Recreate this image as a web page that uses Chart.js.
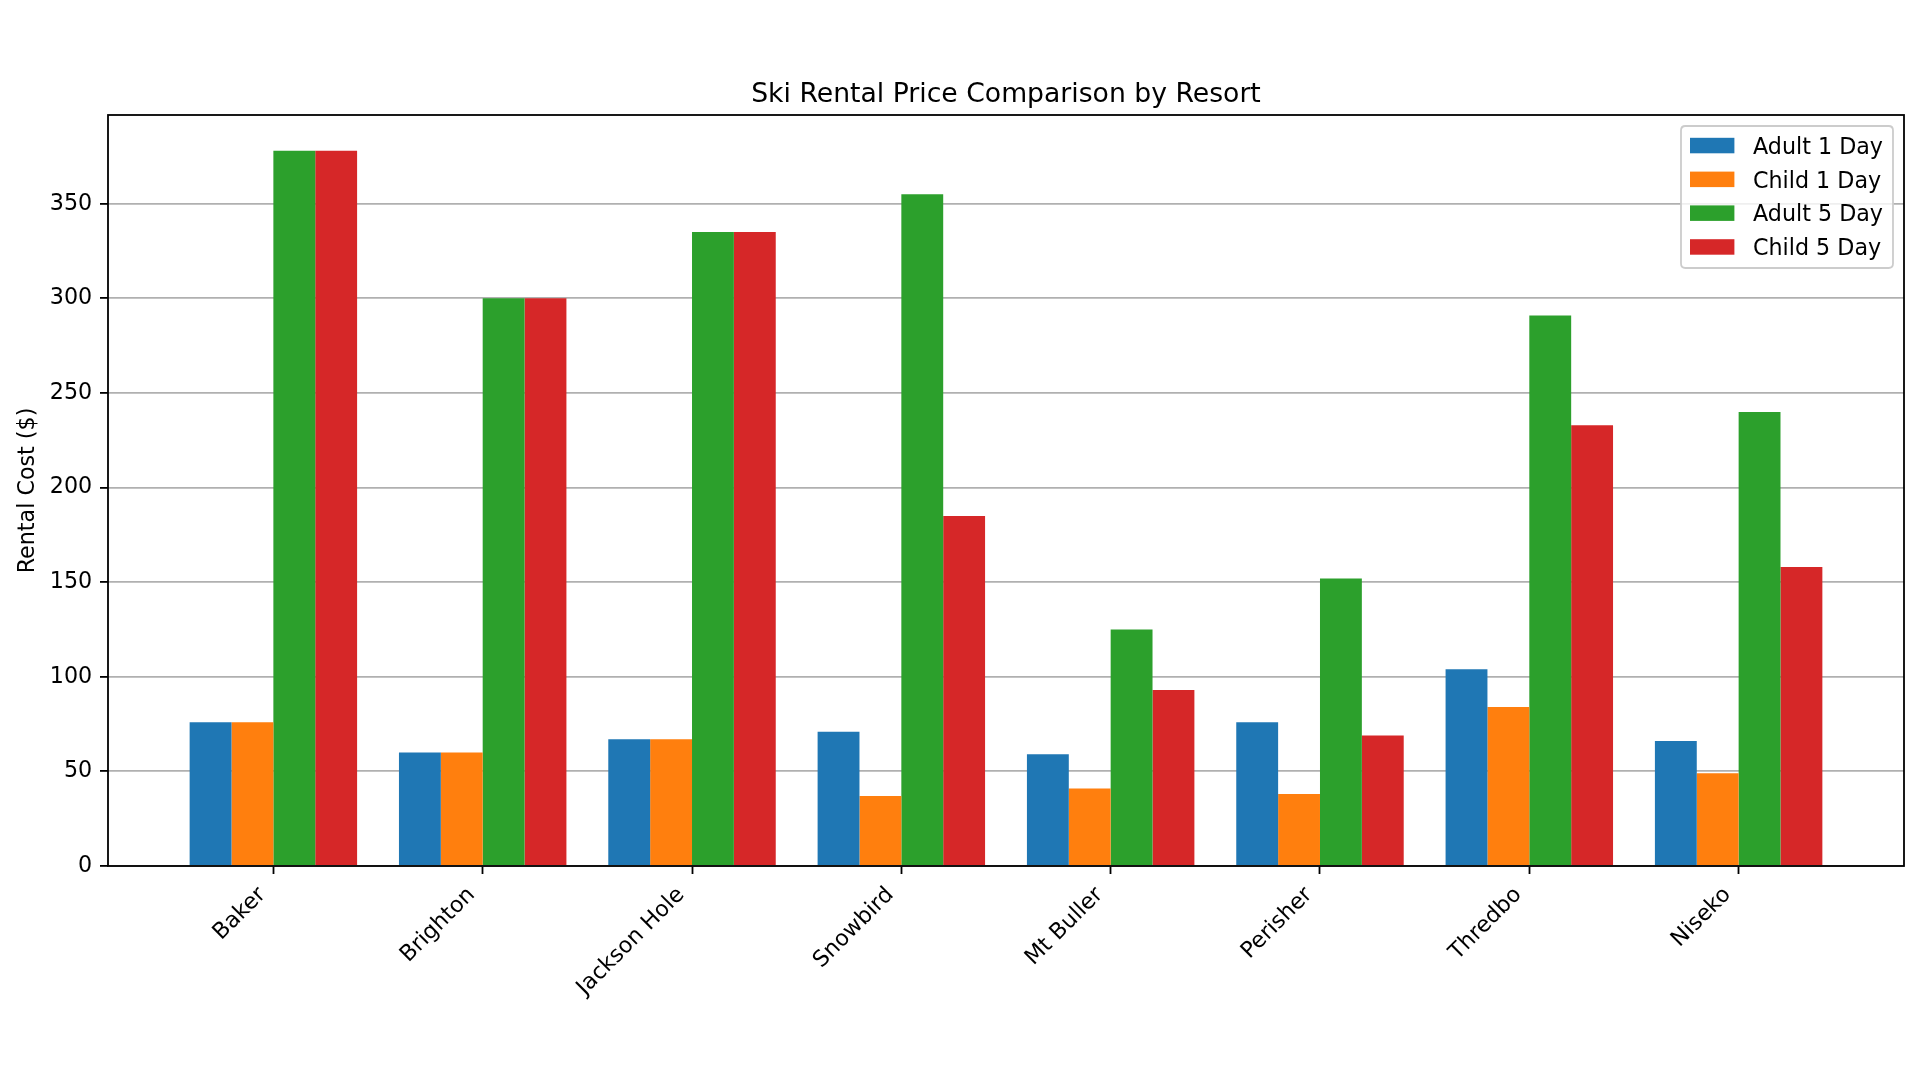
<!DOCTYPE html>
<html>
<head>
<meta charset="utf-8">
<script src="https://cdn.jsdelivr.net/npm/chart.js@4.4.1/dist/chart.umd.min.js"></script>
<style>
  html, body { margin: 0; padding: 0; background: #ffffff; }
  #wrap { width: 1920px; height: 1080px; }
</style>
</head>
<body>
<div id="wrap"><canvas id="c" width="1920" height="1080"></canvas></div>
<script>
// ---- Data ----
const chartTitle = 'Ski Rental Price Comparison by Resort';
const yAxisLabel = 'Rental Cost ($)';
const categories = ['Baker', 'Brighton', 'Jackson Hole', 'Snowbird', 'Mt Buller', 'Perisher', 'Thredbo', 'Niseko'];
const seriesNames = ['Adult 1 Day', 'Child 1 Day', 'Adult 5 Day', 'Child 5 Day'];
const adult1Day = [76, 60, 67, 71, 59, 76, 104, 66];
const child1Day = [76, 60, 67, 37, 41, 38, 84, 49];
const adult5Day = [378, 300, 335, 355, 125, 152, 291, 240];
const child5Day = [378, 300, 335, 185, 93, 69, 233, 158];
const yTicks = [0, 50, 100, 150, 200, 250, 300, 350];

// ---- Styles ----
const seriesColors = ['#1f77b4', '#ff7f0e', '#2ca02c', '#d62728'];
const FONT = 'DejaVu Sans';
const TICK_PX = 22.22;
const TITLE_PX = 26.67;

const allSeries = [adult1Day, child1Day, adult5Day, child5Day];
const yMax = Math.max(...allSeries.flat()) * 1.05;
const xMin = -0.4 - 0.05 * (categories.length - 0.2);
const xMax = (categories.length - 1) + 0.4 + 0.05 * (categories.length - 0.2);

Chart.defaults.font.family = FONT;
Chart.defaults.font.size = TICK_PX;
Chart.defaults.color = '#000000';

const datasets = allSeries.map((vals, k) => ({
  label: seriesNames[k],
  data: vals.map((v, i) => ({ x: i, y: v })),
  backgroundColor: seriesColors[k],
  borderWidth: 0,
  barPercentage: 1.0,
  categoryPercentage: 0.8
}));

const titlePlugin = {
  id: 'mplTitle',
  afterDraw(chart) {
    const { ctx, chartArea } = chart;
    ctx.save();
    ctx.font = TITLE_PX + 'px "' + FONT + '"';
    ctx.fillStyle = '#000';
    ctx.textAlign = 'center';
    ctx.textBaseline = 'alphabetic';
    ctx.fillText(chartTitle, (chartArea.left + chartArea.right) / 2, chartArea.top - 13.3);
    ctx.restore();
  }
};

const framePlugin = {
  id: 'mplFrame',
  afterDraw(chart) {
    const { ctx, chartArea } = chart;
    ctx.save();
    ctx.strokeStyle = '#000';
    ctx.lineWidth = 1.8;
    ctx.strokeRect(chartArea.left, chartArea.top, chartArea.right - chartArea.left, chartArea.bottom - chartArea.top);
    ctx.restore();
  }
};

const legendPlugin = {
  id: 'mplLegend',
  afterDraw(chart) {
    const { ctx, chartArea } = chart;
    const ds = chart.data.datasets;
    const boxRight = chartArea.right - 11;
    const boxTop = chartArea.top + 11;
    const boxW = 212, boxH = 142;
    const boxLeft = boxRight - boxW;
    ctx.save();
    const r = 4.4;
    ctx.beginPath();
    ctx.moveTo(boxLeft + r, boxTop);
    ctx.lineTo(boxRight - r, boxTop);
    ctx.quadraticCurveTo(boxRight, boxTop, boxRight, boxTop + r);
    ctx.lineTo(boxRight, boxTop + boxH - r);
    ctx.quadraticCurveTo(boxRight, boxTop + boxH, boxRight - r, boxTop + boxH);
    ctx.lineTo(boxLeft + r, boxTop + boxH);
    ctx.quadraticCurveTo(boxLeft, boxTop + boxH, boxLeft, boxTop + boxH - r);
    ctx.lineTo(boxLeft, boxTop + r);
    ctx.quadraticCurveTo(boxLeft, boxTop, boxLeft + r, boxTop);
    ctx.closePath();
    ctx.fillStyle = 'rgba(255,255,255,0.8)';
    ctx.fill();
    ctx.strokeStyle = '#cccccc';
    ctx.lineWidth = 1.8;
    ctx.stroke();
    ctx.font = TICK_PX + 'px "' + FONT + '"';
    ctx.textAlign = 'left';
    ctx.textBaseline = 'middle';
    const firstY = boxTop + 19.5;
    const step = 33.8;
    ds.forEach((d, k) => {
      const cy = firstY + k * step;
      ctx.fillStyle = d.backgroundColor;
      ctx.fillRect(boxLeft + 9, cy - 7.7, 44.4, 15.5);
      ctx.fillStyle = '#000';
      ctx.fillText(d.label, boxLeft + 72, cy + 2.5);
    });
    ctx.restore();
  }
};

new Chart(document.getElementById('c'), {
  type: 'bar',
  data: { datasets },
  options: {
    responsive: false,
    devicePixelRatio: 1,
    animation: false,
    layout: { padding: { top: 115, right: 16, left: 0, bottom: 0 } },
    plugins: {
      legend: { display: false },
      title: { display: false },
      tooltip: { enabled: false }
    },
    scales: {
      x: {
        type: 'linear',
        min: xMin,
        max: xMax,
        offset: false,
        afterBuildTicks(scale) { scale.ticks = categories.map((c, i) => ({ value: i })); },
        afterFit(scale) { scale.height = 1080 - 866; },
        grid: {
          display: true,
          drawOnChartArea: false,
          drawTicks: true,
          tickLength: 8,
          tickWidth: 1.8,
          tickColor: '#000',
          offset: false
        },
        border: { display: false },
        ticks: {
          autoSkip: false,
          minRotation: 45,
          maxRotation: 45,
          padding: 8,
          labelOffset: -11,
          font: { size: TICK_PX, family: FONT },
          color: '#000',
          callback: (v) => categories[v]
        }
      },
      y: {
        type: 'linear',
        min: 0,
        max: yMax,
        z: 1,
        afterBuildTicks(scale) { scale.ticks = yTicks.map(v => ({ value: v })); },
        afterFit(scale) { scale.width = 108; },
        grid: {
          display: true,
          color: '#b0b0b0',
          lineWidth: 1.8,
          drawTicks: true,
          tickLength: 8,
          tickWidth: 1.8,
          tickColor: '#000'
        },
        border: { display: false },
        ticks: {
          padding: 7.8,
          font: { size: TICK_PX, family: FONT },
          color: '#000',
          callback: (v) => String(v)
        },
        title: {
          display: true,
          text: yAxisLabel,
          font: { size: TICK_PX, family: FONT },
          color: '#000',
          padding: { top: 14.5, bottom: 0 }
        }
      }
    }
  },
  plugins: [titlePlugin, framePlugin, legendPlugin]
});
</script>
</body>
</html>
